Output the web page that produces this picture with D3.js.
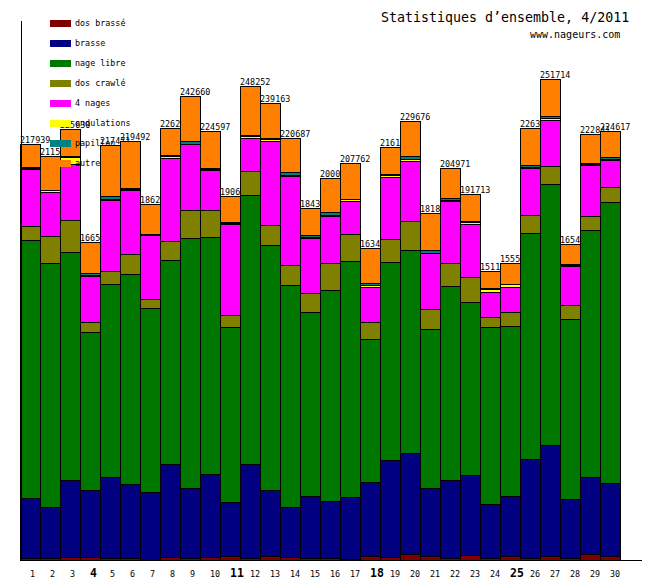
<!DOCTYPE html>
<html>
<head>
<meta charset="utf-8">
<style>
body { margin: 0; background: #fff; }
text { font-family: "DejaVu Sans Mono", monospace; fill: #000; }
</style>
</head>
<body>
<svg width="660" height="580"></svg>
<script src="https://d3js.org/d3.v7.min.js"></script>
<script>
// April 2011, one bar per day
var days = [1, 2, 3, 4, 5, 6, 7, 8, 9, 10, 11, 12, 13, 14, 15, 16, 17, 18, 19, 20, 21, 22, 23, 24, 25, 26, 27, 28, 29, 30];
var mondays = [4, 11, 18, 25];

var dosBrasse   = [890, 890, 1410, 1410, 890, 890, 160, 1410, 890, 1410, 1940, 890, 1940, 1410, 890, 890, 520, 1940, 1410, 2980, 1940, 890, 2460, 890, 1940, 890, 1940, 890, 2980, 1940];
var brasse      = [31420, 26700, 40320, 35080, 42410, 38750, 35450, 48850, 36650, 43620, 28270, 49380, 34560, 26180, 32460, 29850, 32310, 38750, 50790, 52880, 35600, 40840, 41890, 28270, 31420, 51840, 58280, 30890, 40320, 38220];
var nageLibre   = [135090, 127760, 119380, 82730, 101050, 109960, 96340, 106650, 130900, 123940, 91630, 140690, 128280, 116240, 96340, 110480, 123570, 74870, 103670, 106290, 83250, 101580, 90580, 92680, 89010, 118330, 136500, 94250, 129330, 147130];
var dosCrawle   = [7330, 14140, 16760, 5550, 6810, 10470, 4710, 10110, 14660, 14140, 6280, 12570, 10470, 10470, 9950, 14140, 14140, 8900, 12040, 15340, 10470, 12040, 13090, 5240, 7330, 9420, 9420, 7330, 7330, 7850];
var quatreNages = [30160, 23040, 29320, 24090, 37490, 33670, 33300, 43300, 34560, 21100, 47650, 17590, 44300, 46910, 29110, 24610, 17280, 18640, 32780, 31570, 29320, 32780, 27910, 13400, 13400, 24610, 24240, 20420, 26700, 14140];
var ondulations = [310, 1050, 3670, 260, 260, 420, 420, 1200, 310, 420, 520, 680, 680, 370, 520, 680, 1050, 790, 680, 890, 370, 210, 890, 1410, 1260, 890, 1200, 630, 790, 890];
var papillon    = [310, 370, 790, 890, 1410, 420, 420, 260, 1260, 470, 680, 730, 730, 1410, 730, 1730, 310, 1150, 730, 1410, 1200, 1050, 680, 370, 210, 680, 890, 580, 260, 840];
var autre       = [12429, 17587, 13980, 16510, 27151, 24912, 15445, 14438, 23430, 19497, 13668, 25722, 18203, 17697, 14326, 17705, 18582, 18412, 14043, 18316, 19724, 15581, 14213, 8902, 10968, 19687, 19244, 10438, 15131, 13607];

var keys   = ["dosBrasse", "brasse", "nageLibre", "dosCrawle", "quatreNages", "ondulations", "papillon", "autre"];
var names  = ["dos brassé", "brasse", "nage libre", "dos crawlé", "4 nages", "ondulations", "papillon", "autre"];
var colors = ["#800000", "#000080", "#007800", "#808000", "#ff00ff", "#ffff00", "#008080", "#ff8000"];
var columns = [dosBrasse, brasse, nageLibre, dosCrawle, quatreNages, ondulations, papillon, autre];

var table = days.map(function(d, i) {
  var row = {day: d};
  keys.forEach(function(k, j) { row[k] = columns[j][i]; });
  return row;
});

var layers = d3.stack().keys(keys)(table);

var x = d3.scaleBand().domain(days).range([20, 620]);
var y = d3.scaleLinear().domain([0, 282700]).range([560, 20]);

var svg = d3.select("svg");

svg.append("rect").attr("width", 660).attr("height", 580).attr("fill", "#fff");

// one group per day, so the next bar covers the previous label
var bars = svg.selectAll("g.bar")
  .data(table)
  .enter().append("g")
    .attr("class", "bar");

bars.selectAll("rect")
  .data(function(d, i) {
    return layers.map(function(l, k) { return {day: d.day, k: k, v0: l[i][0], v1: l[i][1]}; });
  })
  .enter().append("rect")
    .attr("x", function(d) { return x(d.day) + 0.5; })
    .attr("width", x.bandwidth())
    .attr("y", function(d) { return Math.round(y(d.v1)) + 0.5; })
    .attr("height", function(d) { return Math.round(y(d.v0)) - Math.round(y(d.v1)); })
    .attr("fill", function(d) { return colors[d.k]; })
    .attr("stroke", "#000")
    .attr("stroke-width", 1)
    .attr("shape-rendering", "crispEdges");

bars.append("text")
    .attr("x", function(d) { return x(d.day); })
    .attr("y", function(d, i) { return Math.round(y(layers[layers.length - 1][i][1])) - 1; })
    .attr("font-size", "8.4px")
    .text(function(d, i) { return layers[layers.length - 1][i][1]; });

// axes
svg.append("g")
    .attr("transform", "translate(20.5,0)")
    .call(d3.axisLeft(y).ticks(0).tickSize(0).tickSizeOuter(0))
    .select(".domain")
    .attr("stroke", "#000")
    .attr("shape-rendering", "crispEdges");

svg.append("line")
    .attr("x1", 20).attr("x2", 642)
    .attr("y1", 560.5).attr("y2", 560.5)
    .attr("stroke", "#000")
    .attr("shape-rendering", "crispEdges");

var xAxis = svg.append("g")
    .attr("transform", "translate(0,560)")
    .call(d3.axisBottom(x).tickSize(0).tickSizeOuter(0));

xAxis.select(".domain").remove();

xAxis.selectAll("text")
    .attr("text-anchor", "start")
    .attr("y", 17)
    .attr("dy", 0)
    .attr("font-family", "DejaVu Sans Mono")
    .attr("font-size", function(d) { return mondays.indexOf(d) >= 0 ? "11.5px" : "8.4px"; })
    .attr("font-weight", function(d) { return mondays.indexOf(d) >= 0 ? "bold" : "normal"; });

// legend
var legend = svg.selectAll("g.legend")
  .data(names)
  .enter().append("g")
    .attr("class", "legend")
    .attr("transform", function(d, i) { return "translate(50," + (20 + 20 * i) + ")"; });

legend.append("rect")
    .attr("width", 21)
    .attr("height", 7)
    .attr("fill", function(d, i) { return colors[i]; });

legend.append("text")
    .attr("x", 25)
    .attr("y", 6)
    .attr("font-size", "8.4px")
    .text(function(d) { return d; });

svg.append("text")
    .attr("x", 381)
    .attr("y", 22)
    .attr("font-size", "13.3px")
    .text("Statistiques d’ensemble, 4/2011");

svg.append("text")
    .attr("x", 530)
    .attr("y", 38)
    .attr("font-size", "10px")
    .text("www.nageurs.com");
</script>
</body>
</html>
